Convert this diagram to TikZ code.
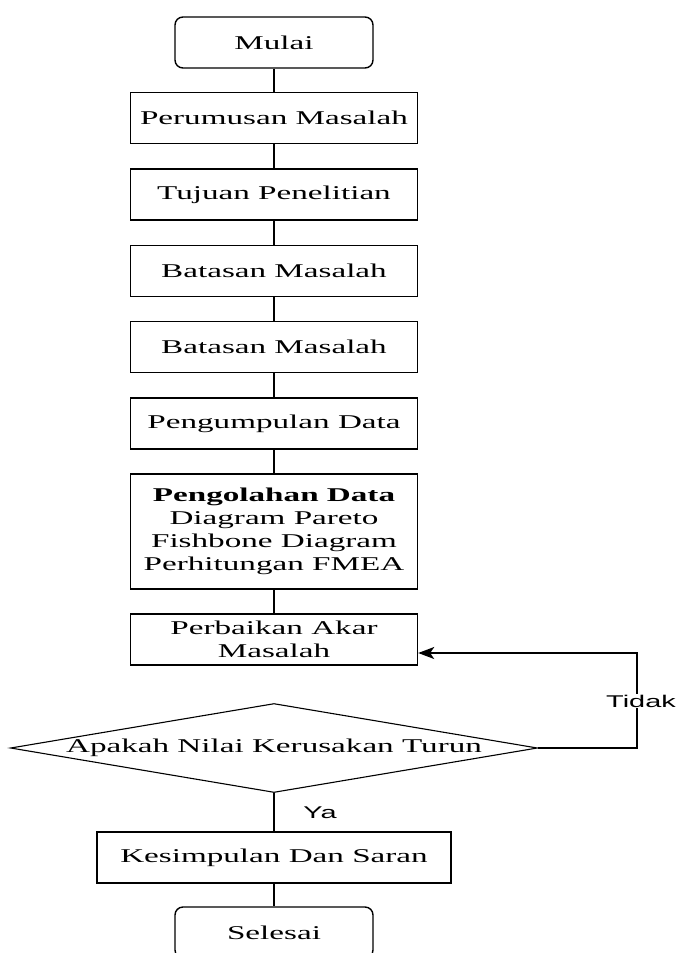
\documentclass[tikz,border=0pt]{standalone}
\usepackage{fontspec}
\setmainfont[FakeStretch=1.7]{Liberation Serif}
\newfontfamily\labelfont[FakeStretch=1.7]{Liberation Sans}
\usetikzlibrary{shapes.geometric,arrows.meta}
\tikzset{x=1pt, y=-1pt,
    every node/.append style={font=\fontsize{19.5}{23}\selectfont},
    process/.style={draw, line width=1.4pt, minimum width=287pt, minimum height=51pt, inner sep=0pt, align=center},
    terminal/.style={process, rounded corners=8pt, minimum width=198pt},
    decision/.style={draw, line width=1.1pt, shape=diamond, minimum width=527pt, minimum height=89pt, inner sep=0pt},
    flowline/.style={line width=1.4pt},
    answer/.style={font=\labelfont\fontsize{17}{20}\selectfont, inner sep=1pt}}

\begin{document}
\begin{tikzpicture}
                \useasboundingbox (0,0) rectangle (678,953);
                \node[terminal] (mulai) at (274,42.5) {Mulai};
                \node[process] (perumusan) at (274,118) {Perumusan Masalah};
                \node[process] (tujuan) at (274,194.5) {Tujuan Penelitian};
                \node[process] (batasan) at (274,271) {Batasan Masalah};
                \node[process] (batasanb) at (274,347) {Batasan Masalah};
                \node[process] (pengumpulan) at (274,423.5) {Pengumpulan Data};
                \node[process, minimum height=115pt] (pengolahan) at (274,531.5)
                    {\textbf{Pengolahan Data}\\Diagram Pareto\\Fishbone Diagram\\Perhitungan FMEA};
                \node[process] (perbaikan) at (274,639.5) {Perbaikan Akar\\Masalah};
                \node[decision] (apakah) at (274,748) {\makebox[0pt]{Apakah Nilai Kerusakan Turun}};
                \node[process, minimum width=354pt] (kesimpulan) at (274,857.5) {Kesimpulan Dan Saran};
                \node[terminal] (selesai) at (274,932.5) {Selesai};
                \foreach \a/\b in {mulai/perumusan, perumusan/tujuan, tujuan/batasan, batasan/batasanb,
                        batasanb/pengumpulan, pengumpulan/pengolahan, pengolahan/perbaikan,
                        apakah/kesimpulan, kesimpulan/selesai}
                    \draw[flowline] (\a) -- (\b);
                \coordinate (turn) at (637,653);
                \draw[flowline, -{Stealth[length=16pt, width=12pt, inset=4pt]}]
                    (apakah.east) -| (turn) -- (perbaikan.east |- turn);
                \node[answer, fill=white] (tidak) at (641,701) {Tidak};
                \node[answer] (ya) at (320,813) {Ya};
            \end{tikzpicture}
\end{document}
